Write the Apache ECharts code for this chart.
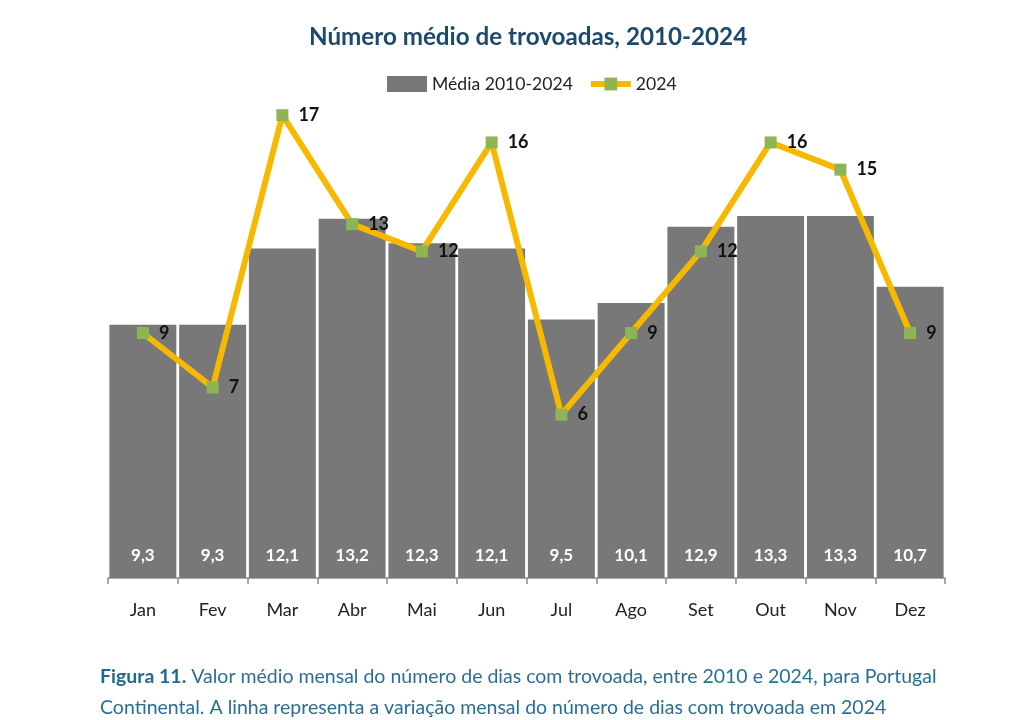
<!DOCTYPE html>
<html><head><meta charset="utf-8">
<script src="https://cdn.jsdelivr.net/npm/echarts@6/dist/echarts.min.js"></script>
<style>html,body{margin:0;padding:0;background:#fff}#c{width:1024px;height:720px}</style>
</head><body><div id="c"></div>
<script>
const categories = ['Jan','Fev','Mar','Abr','Mai','Jun','Jul','Ago','Set','Out','Nov','Dez'];
const media = [9.3, 9.3, 12.1, 13.2, 12.3, 12.1, 9.5, 10.1, 12.9, 13.3, 13.3, 10.7];
const ano2024 = [9, 7, 17, 13, 12, 16, 6, 9, 12, 16, 15, 9];
const FONT = 'Lato, "Open Sans", sans-serif';
const chart = echarts.init(document.getElementById('c'));
chart.setOption({
  animation: false,
  textStyle: { fontFamily: FONT },
  title: [
    { text: 'Número médio de trovoadas, 2010-2024', left: 304, top: 20,
      textStyle: { fontFamily: FONT, fontSize: 24.2, fontWeight: 'bold', color: '#1d4a6b' } },
    { text: '{b|Figura 11.} Valor médio mensal do número de dias com trovoada, entre 2010 e 2024, para Portugal\nContinental. A linha representa a variação mensal do número de dias com trovoada em 2024',
      left: 95, top: 656,
      textStyle: { fontFamily: FONT, fontSize: 19.5, fontWeight: 'normal', color: '#2a6f93', lineHeight: 31,
        rich: { b: { fontFamily: FONT, fontSize: 19.5, fontWeight: 'bold', color: '#1f6a8f' } } } }
  ],
  legend: {
    top: 70, left: 382, itemGap: 15, itemWidth: 40, itemHeight: 16,
    textStyle: { fontFamily: FONT, fontSize: 17.6, color: '#222' },
    data: [
      { name: 'Média 2010-2024', icon: 'rect' },
      { name: '2024', lineStyle: { width: 6, color: '#f7b900' } }
    ]
  },
  grid: { left: 108, right: 79, top: 88, bottom: 142 },
  xAxis: {
    type: 'category', data: categories, boundaryGap: true,
    axisLine: { lineStyle: { color: '#8c8c8c', width: 1.5 } },
    axisTick: { show: true, length: 6, lineStyle: { color: '#8c8c8c', width: 1.5 } },
    axisLabel: { fontFamily: FONT, fontSize: 18, color: '#222', margin: 23 }
  },
  yAxis: { type: 'value', min: 0, max: 18, show: false, splitLine: { show: false } },
  series: [
    { name: 'Média 2010-2024', type: 'bar', data: media, barCategoryGap: '4%',
      itemStyle: { color: '#787878' },
      label: { show: true, position: 'insideBottom', distance: 14, color: '#fff', fontFamily: FONT,
        fontSize: 17, fontWeight: 'bold',
        formatter: p => String(p.value).replace('.', ',') } },
    { name: '2024', type: 'line', data: ano2024, symbol: 'rect', symbolSize: 12,
      lineStyle: { color: '#f7b900', width: 6 },
      itemStyle: { color: '#8db553' },
      label: { show: true, position: 'right', distance: 10, color: '#111', fontFamily: FONT,
        fontSize: 18, fontWeight: 'bold' } }
  ]
});
</script></body></html>
